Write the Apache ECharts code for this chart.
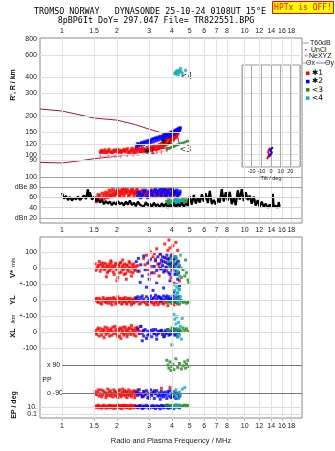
<!DOCTYPE html>
<html><head><meta charset="utf-8">
<script src="https://cdn.jsdelivr.net/npm/echarts@6/dist/echarts.min.js"></script>
<style>html,body{margin:0;padding:0;background:#fff}#c{width:335px;height:451px}</style>
</head><body><div id="c"></div>
<script>
// ---------- tick labels ----------
const freqTicks = [1,1.5,2,3,4,5,6,7,8,10,12,14,16,18];
const heightTicks = [80,90,100,120,150,200,300,400,600,800];
const heightLines = [90,100,120,150,200,300,400,600];
const ampTicks = [20,40,60,80,100];
const ampNames = {80:'dBe 80', 20:'dBn 20'};
const vTicks = [100,0];
const ylTicks = [100,0];
const xlTicks = [100,0,-100];
const ppTicks = [90,-90];
const ppNames = {90:'x 90', '-90':'o -90'};
const epTicks = [10,0.1];
const epNames = {10:'10.', 0.1:'0.1'};
const tiltTicks = [-20,-10,0,10,20];

// ---------- height panel (f MHz, h km) ----------
const heightRed = [[1.62,105],[1.64,108],[1.68,104],[1.7,107],[1.72,109],[1.76,103],[1.78,107],[1.81,110],[1.84,105],[1.87,104],[1.9,108],[1.93,105],[1.96,109],[2.0,106],[2.02,110],[2.06,105],[2.08,108],[2.12,104],[2.15,107],[2.18,110],[2.22,105],[2.25,109],[2.28,111],[2.32,106],[2.35,104],[2.39,109],[2.42,112],[2.46,107],[2.5,110],[2.53,105],[2.57,108],[2.6,112],[2.65,110],[2.68,106],[2.72,108],[2.76,113],[2.8,109],[2.85,111],[2.88,107],[2.93,114],[2.97,110],[3.0,108],[3.05,112],[3.08,115],[3.12,110],[3.16,117],[3.2,113],[3.25,116],[3.3,112],[3.34,118],[3.38,114],[3.42,120],[3.46,116],[3.5,122],[3.54,118],[3.58,125],[3.62,121],[3.66,128],[3.7,123],[3.74,131],[3.78,125],[3.82,133],[3.86,128],[3.9,136],[3.94,130],[3.98,138],[4.02,133],[4.06,140],[4.1,136],[4.14,143],[4.18,139],[4.22,146],[4.26,142],[4.3,150],[4.32,145],
  [1.63,102],[1.66,106],[1.73,104],[1.8,106],[1.88,102],[1.95,106],[2.03,103],[2.1,106],[2.2,107],[2.3,103],[2.4,106],[2.48,104],[2.55,111],[2.63,107],[2.7,111],[2.78,106],[2.86,108],[2.95,107],[3.03,110],[3.1,107],[3.18,110],[3.28,109],[3.36,111],[3.44,113],[3.52,114],[3.6,116],[3.68,118],[3.76,120],[3.84,122],[3.92,124],[4.0,128],[4.08,130],[4.16,134],[4.24,137],[4.28,146],[4.2,142],[4.12,138],[4.04,135]];
const heightBlue = [[2.55,115],[2.58,119],[2.62,117],[2.66,121],[2.7,118],[2.75,123],[2.8,120],[2.85,125],[2.9,122],[2.95,127],[3.0,121],[3.02,130],[3.08,124],[3.12,131],[3.18,126],[3.22,133],[3.28,128],[3.32,134],[3.38,130],[3.44,136],[3.5,132],[3.55,138],[3.6,134],[3.65,140],[3.7,136],[3.75,142],[3.8,138],[3.85,145],[3.9,140],[3.95,148],[4.0,142],[4.05,150],[4.1,145],[4.15,153],[4.2,148],[4.25,156],[4.3,151],[4.35,159],[4.4,154],[4.45,162],
  [2.6,122],[2.72,124],[2.82,126],[2.92,128],[3.05,128],[3.15,133],[3.25,135],[3.35,137],[3.45,139],[3.58,141],[3.68,143],[3.78,145],[3.88,147],[3.98,150],[4.08,152],[4.18,155],[4.28,158],[4.38,161],[4.42,157],[4.32,154]];
const heightGreen = [[3.75,110],[3.82,111],[3.9,112],[3.97,114],[4.05,115],[4.12,116],[4.2,118],[4.28,119],[4.35,120],[4.45,122],[4.55,123],[4.65,124],[4.75,126],[4.85,127],[4.95,128]];
const heightCyan = [[4.15,430],[4.2,445],[4.22,425],[4.25,440],[4.3,455],[4.33,420],[4.35,435],[4.4,450],[4.45,470],[4.5,445],[4.55,430],[4.75,455]];
const modelUpper = [[0.758,227],[1.0,219],[1.5,193],[2.0,186],[2.5,172],[3.0,158],[3.5,148],[4.0,141],[4.3,137],[4.4,120]];
const modelLower = [[0.758,87],[1.0,86],[1.3,90],[1.5,93],[2.0,97],[2.5,102],[3.0,107],[3.5,111],[4.0,115],[4.4,120]];
const neXYZ = [[1.62,96],[1.79,97],[1.95,98],[2.1,98],[2.28,99],[2.45,100],[2.6,101],[3.3,104],[3.5,105],[3.75,108]];
const traceTags = [[2.8,104,'✱1'],[3.45,126,'✱2'],[4.4,108,'<3'],[4.45,405,'<4']];
const tiltRed = [[-4,92],[-2,100],[-3,105],[-1,113]];
const tiltBlue = [[-2,96],[1,104],[-1,108],[2,114]];

// ---------- amplitude panel (f MHz, dB) ----------
const noiseTrace = [[1.0,69],[1.026,58],[1.052,63],[1.079,55],[1.106,61],[1.134,54],[1.163,60],[1.193,56],[1.223,62],[1.254,55],[1.286,59],[1.319,64],[1.353,57],[1.387,76],[1.404,60],[1.422,70],[1.459,56],[1.496,61],[1.534,52],[1.573,58],[1.613,50],[1.654,55],[1.697,47],[1.74,53],[1.784,48],[1.83,52],[1.876,45],[1.924,51],[1.973,46],[2.024,53],[2.075,47],[2.128,50],[2.183,44],[2.238,52],[2.295,46],[2.354,54],[2.414,45],[2.475,50],[2.538,43],[2.603,52],[2.669,46],[2.737,49],[2.807,42],[2.879,51],[2.952,44],[3.027,48],[3.105,41],[3.184,50],[3.265,43],[3.348,47],[3.433,41],[3.521,49],[3.61,42],[3.702,48],[3.797,40],[3.894,46],[3.993,42],[4.095,49],[4.199,41],[4.306,47],[4.416,43],[4.529,50],[4.644,42],[4.763,48],[4.884,44],[5.009,62],[5.137,46],[5.268,65],[5.402,48],[5.54,60],[5.681,50],[5.826,66],[5.974,52],[6.127,68],[6.283,49],[6.443,73],[6.607,47],[6.776,55],[6.948,46],[7.126,58],[7.307,50],[7.494,76],[7.685,52],[7.881,70],[8.082,54],[8.288,71],[8.499,47],[8.716,60],[8.938,45],[9.166,74],[9.4,56],[9.64,76],[9.886,53],[10.14,70],[10.4,55],[10.66,64],[10.93,48],[11.21,62],[11.5,44],[11.79,55],[12.09,42],[12.4,52],[12.72,41],[13.04,48],[13.37,40],[13.71,46],[14.06,41],[14.24,67],[14.42,42],[14.79,44],[15.17,40],[15.36,51],[15.55,42]];
const ampRed = [[1.52,60],[1.56,56],[1.6,63],[1.64,58],[1.68,61],[1.72,66],[1.76,62],[1.8,68],[1.84,64],[1.88,70],[1.92,66],[1.96,72],[2.0,67],[2.04,71],[2.08,65],[2.12,73],[2.16,68],[2.2,76],[2.25,69],[2.3,72],[2.35,66],[2.4,74],[2.45,70],[2.5,68],[2.55,73],[2.6,66],[2.7,71],[2.8,64],[2.9,68],[3.0,62],[3.1,66],[3.2,70],[3.3,65],[3.4,71],[3.5,67],[3.6,73],[3.7,68],[3.8,72],[3.9,66],[4.0,70],[4.1,64],[4.2,68],[4.3,62],
  [1.54,52],[1.58,65],[1.62,55],[1.66,68],[1.7,57],[1.74,70],[1.78,60],[1.82,74],[1.86,62],[1.9,76],[1.94,63],[1.98,68],[2.02,75],[2.06,62],[2.1,70],[2.14,77],[2.18,64],[2.22,71],[2.27,75],[2.32,63],[2.38,70],[2.43,76],[2.48,63],[2.52,70],[2.58,77],[2.65,70],[2.75,74],[2.85,68],[2.95,72],[3.05,66],[3.15,74],[3.25,62],[3.35,68],[3.45,64],[3.55,70],[3.65,64],[3.75,76],[3.85,64],[3.95,73],[4.05,68],[4.15,72],[4.25,66]];
const ampBlue = [[2.6,62],[2.65,68],[2.7,60],[2.75,66],[2.8,71],[2.9,64],[3.0,69],[3.05,74],[3.1,66],[3.2,71],[3.25,76],[3.3,68],[3.4,73],[3.5,69],[3.55,75],[3.6,71],[3.7,66],[3.75,73],[3.8,70],[3.9,77],[4.0,68],[4.05,72],[4.1,66],[4.2,70],[4.3,64],[4.4,67],
  [2.62,70],[2.72,64],[2.85,74],[2.95,60],[3.08,70],[3.15,63],[3.28,72],[3.35,65],[3.45,77],[3.52,63],[3.65,76],[3.72,62],[3.85,68],[3.95,64],[4.02,76],[4.12,70],[4.25,74],[4.35,68],[4.42,72]];
const ampGreen = [[3.75,52],[3.8,48],[3.85,55],[3.9,50],[4.0,53],[4.1,47],[4.2,56],[4.3,50],[4.4,54],[4.5,49],[4.6,57],[4.7,52],[4.8,55],[4.9,50]];
const ampCyan = [[4.0,50],[4.05,46],[4.1,54],[4.15,48],[4.2,52],[4.25,45],[4.3,55],[4.35,49],[4.4,53],[4.45,47],[4.5,51],[4.55,56]];

// ---------- V* (m/s) ----------
const vRed = [[1.52,25],[1.55,-5],[1.58,15],[1.62,-20],[1.65,30],[1.68,5],[1.71,-10],[1.74,25],[1.77,-30],[1.8,10],[1.83,-15],[1.86,35],[1.9,0],[1.93,-40],[1.96,20],[1.99,-5],[2.02,-60],[2.05,10],[2.08,30],[2.11,-25],[2.14,5],[2.17,-10],[2.2,25],[2.23,-35],[2.27,15],[2.3,-20],[2.33,40],[2.36,0],[2.4,-50],[2.43,20],[2.46,5],[2.5,-15],[2.54,10],[1.75,-55],[2.0,-80],[2.25,-70],[1.6,40],[1.85,45],[2.15,50],[2.45,-30],[2.8,60],[2.85,20],[2.9,80],[2.95,-10],[3.0,45],[3.05,100],[3.1,10],[3.15,70],[3.2,-30],[3.25,55],[3.3,120],[3.35,25],[3.4,-50],[3.45,85],[3.5,35],[3.0,-40],[3.2,90],[3.4,5],[3.65,150],[3.7,60],[3.75,-20],[3.8,110],[3.85,175],[3.9,30],[3.95,-60],[4.0,90],[4.05,140],[4.1,0],[4.15,70],[4.2,160],[4.25,-40],[4.3,110],[4.35,40],[4.4,-80],[3.9,125],[4.1,-95],[4.2,20],
  [1.53,-15],[1.57,5],[1.61,20],[1.64,-5],[1.67,15],[1.7,30],[1.73,0],[1.76,10],[1.79,-20],[1.82,25],[1.85,0],[1.88,15],[1.91,-25],[1.94,10],[1.97,30],[2.0,-10],[2.04,20],[2.07,-30],[2.1,35],[2.13,-5],[2.16,15],[2.19,-40],[2.22,0],[2.26,20],[2.29,-10],[2.32,5],[2.35,30],[2.38,-25],[2.42,0],[2.47,25],[2.52,-5],[2.6,15],[2.65,-20]];
const vBlue = [[2.55,40],[2.6,-20],[2.62,60],[2.68,-90],[2.7,20],[2.75,-50],[2.8,75],[2.85,-10],[2.9,-120],[2.95,30],[3.0,-70],[3.05,55],[3.1,-30],[3.15,-140],[3.2,10],[3.25,45],[3.3,-15],[3.35,70],[3.4,25],[3.45,-5],[3.5,50],[3.55,15],[3.6,-25],[3.65,65],[3.7,35],[3.75,0],[3.8,55],[3.85,-30],[3.9,20],[3.95,75],[4.0,-10],[4.05,45],[4.1,10],[4.15,-40],[4.2,60],[4.25,30],[4.3,-70],[4.35,5],[4.4,-110],[3.3,-95],[3.6,-125],[3.9,-80],[4.1,-150],[3.45,90],[3.75,80],
  [3.5,-5],[3.6,40],[3.7,5],[3.8,25],[3.85,60],[3.9,-40],[4.0,30],[4.1,55],[4.2,-20],[4.3,40],[3.55,70],[3.65,-15],[3.95,10],[4.15,20],[4.35,-30]];
const vGreen = [[3.85,40],[3.9,10],[3.95,60],[4.0,-20],[4.1,30],[4.2,70],[4.3,-40],[4.4,15],[4.5,-60],[4.6,-10],[4.7,-50],[4.8,-30],[4.9,-75],[4.95,-90],[4.75,50]];
const vCyan = [[4.1,40],[4.15,70],[4.2,10],[4.25,55],[4.3,-20],[4.35,30],[4.4,-50],[4.45,80],[4.5,0],[4.25,-100],[4.35,-130],[4.3,-155]];

// ---------- YL (km) ----------
const ylRed = [[1.52,-5],[1.55,10],[1.58,-15],[1.62,0],[1.65,-25],[1.68,15],[1.72,-10],[1.75,5],[1.78,-20],[1.82,10],[1.85,-5],[1.88,-30],[1.92,15],[1.95,0],[1.98,-15],[2.02,20],[2.05,-10],[2.08,5],[2.12,-25],[2.15,10],[2.18,-5],[2.22,15],[2.25,-20],[2.28,0],[2.32,-10],[2.36,10],[2.4,-30],[2.44,5],[2.48,-15],[2.52,15],[2.6,-5],[2.7,-20],[2.8,-10],[2.9,-25],[3.0,-5],[3.1,-15],[3.2,-30],[3.3,-10],[3.4,-20],[3.5,-5],[3.6,-25],[3.7,-15],[3.8,-35],[3.9,-10],[4.0,-20],[4.1,-30],[4.2,-15],[4.3,-25],
  [1.53,5],[1.57,-10],[1.6,10],[1.63,-20],[1.67,-5],[1.7,5],[1.74,-15],[1.77,10],[1.8,-5],[1.84,-20],[1.87,10],[1.9,-10],[1.94,5],[1.97,-25],[2.0,0],[2.04,-15],[2.07,10],[2.1,-5],[2.14,-20],[2.17,5],[2.2,-10],[2.24,0],[2.27,-25],[2.3,10],[2.34,-5],[2.38,-15],[2.42,0],[2.46,-20],[2.5,5],[2.55,-10],[2.65,-25],[2.75,-5],[2.85,-15],[2.95,-30],[3.05,-10],[3.15,-20],[3.25,-15],[3.35,-30],[3.45,-10],[3.55,-20]];
const ylBlue = [[2.55,10],[2.6,20],[2.65,0],[2.7,15],[2.75,25],[2.8,5],[2.9,20],[2.95,-5],[3.0,10],[3.05,25],[3.1,0],[3.2,15],[3.25,30],[3.3,5],[3.4,20],[3.45,-5],[3.5,10],[3.6,25],[3.65,0],[3.7,15],[3.8,5],[3.85,20],[3.9,-10],[4.0,10],[4.05,25],[4.1,0],[4.2,15],[4.25,-5],[4.3,10],[4.4,0],
  [3.0,-5],[3.15,10],[3.35,20],[3.55,0],[3.75,25],[3.95,5],[4.15,-10],[4.35,20],[3.45,15],[3.85,5]];
const ylGreen = [[3.8,-15],[3.9,-10],[4.0,-20],[4.1,-5],[4.2,-15],[4.3,-10],[4.4,-25],[4.5,-5],[4.6,-15],[4.7,-10],[4.8,-20],[4.9,-10],[4.95,-15]];
const ylCyan = [[4.1,95],[4.15,60],[4.2,30],[4.25,80],[4.3,45],[4.35,10],[4.4,65],[4.45,20],[4.5,-5],[4.3,-10],[4.2,5]];

// ---------- XL (km) ----------
const xlRed = [[1.52,10],[1.55,-15],[1.58,25],[1.62,0],[1.65,-20],[1.68,15],[1.72,30],[1.75,-5],[1.78,10],[1.82,-25],[1.85,20],[1.88,5],[1.92,-10],[1.95,35],[1.98,0],[2.02,-30],[2.05,15],[2.08,25],[2.12,-5],[2.15,10],[2.18,-20],[2.22,30],[2.25,5],[2.28,-15],[2.32,20],[2.36,-5],[2.4,40],[2.44,10],[2.48,-20],[2.52,25],[2.56,0],[2.6,15],[2.7,35],[2.8,5],[3.2,-10],[3.5,10],[3.9,-5],[4.2,15],[1.7,-35],[2.1,-40],
  [1.53,-5],[1.57,15],[1.6,-25],[1.63,20],[1.67,0],[1.7,10],[1.74,-15],[1.77,25],[1.8,-5],[1.84,10],[1.87,-20],[1.9,30],[1.94,-5],[1.97,15],[2.0,-15],[2.04,5],[2.07,-25],[2.1,20],[2.14,0],[2.17,30],[2.2,-10],[2.24,15],[2.27,-30],[2.3,5],[2.34,25],[2.38,-15],[2.42,20],[2.46,-5],[2.5,10],[2.54,-25],[2.58,30],[2.65,5],[2.75,-10]];
const xlBlue = [[2.6,20],[2.65,-10],[2.7,35],[2.75,0],[2.8,-25],[2.85,15],[2.9,-40],[2.95,5],[3.0,-15],[3.05,10],[3.1,-30],[3.15,0],[3.2,-10],[3.25,15],[3.3,-20],[3.35,5],[3.4,-5],[3.5,10],[3.55,-15],[3.6,0],[3.65,-25],[3.7,10],[3.75,-5],[3.8,15],[3.85,-20],[3.9,5],[4.0,-10],[4.05,20],[4.1,0],[4.2,-15],[4.25,10],[4.3,-30],[4.4,5],[2.75,-55],[3.3,-45],
  [2.95,-20],[3.15,15],[3.35,-10],[3.45,5],[3.6,-30],[3.7,-10],[3.9,-15],[4.0,5],[4.15,-20],[4.35,-5],[2.8,10]];
const xlGreen = [[3.8,15],[3.9,5],[4.0,25],[4.1,10],[4.2,20],[4.3,0],[4.4,15],[4.5,5],[4.6,25],[4.7,10],[4.8,20],[4.9,5],[4.0,-80]];
const xlCyan = [[4.1,110],[4.15,80],[4.2,50],[4.25,95],[4.3,20],[4.35,60],[4.4,-20],[4.45,35],[4.5,-45],[4.3,-30],[4.2,0],[4.55,85]];

// ---------- PP (deg) ----------
const ppRed = [[1.52,-80],[1.55,-100],[1.58,-70],[1.62,-95],[1.65,-115],[1.68,-75],[1.72,-90],[1.75,-105],[1.78,-65],[1.82,-85],[1.85,-110],[1.88,-95],[1.92,-70],[1.95,-100],[1.98,-85],[2.02,-120],[2.05,-75],[2.08,-95],[2.12,-105],[2.15,-65],[2.18,-90],[2.22,-110],[2.25,-80],[2.28,-100],[2.32,-70],[2.36,-95],[2.4,-115],[2.44,-85],[2.48,-75],[2.52,-105],[2.56,-90],[2.6,-70],[2.7,-100],[2.8,-80],[2.9,-95],[3.0,-110],[3.2,-75],[3.5,-60],[3.9,-55],
  [1.53,-95],[1.57,-85],[1.6,-110],[1.63,-70],[1.67,-100],[1.7,-85],[1.74,-120],[1.77,-90],[1.8,-105],[1.84,-75],[1.87,-95],[1.9,-115],[1.94,-80],[1.97,-110],[2.0,-90],[2.04,-100],[2.07,-70],[2.1,-115],[2.14,-85],[2.17,-100],[2.2,-75],[2.24,-95],[2.27,-120],[2.3,-85],[2.34,-105],[2.38,-80],[2.42,-100],[2.46,-90],[2.5,-120],[2.54,-80],[2.65,-95],[2.75,-110]];
const ppBlue = [[2.55,-85],[2.6,-105],[2.65,-70],[2.7,-95],[2.75,-115],[2.8,-80],[2.85,-100],[2.9,-75],[2.95,-120],[3.0,-90],[3.05,-70],[3.1,-105],[3.15,-85],[3.2,-125],[3.25,-95],[3.3,-75],[3.35,-110],[3.4,-90],[3.45,-130],[3.5,-80],[3.55,-100],[3.6,-115],[3.65,-85],[3.7,-105],[3.75,-125],[3.8,-90],[3.85,-110],[3.9,-75],[3.95,-120],[4.0,-95],[4.05,-115],[4.1,-85],[4.15,-105],[4.2,-125],[4.3,-95],[4.4,-110],
  [2.6,-90],[2.8,-110],[3.0,-125],[3.2,-80],[3.4,-105],[3.6,-95],[3.8,-80],[4.0,-110],[4.2,-90],[4.35,-120],[3.1,-95],[3.5,-110]];
const ppGreen = [[3.75,120],[3.8,90],[3.85,70],[3.9,110],[3.95,55],[4.0,80],[4.05,95],[4.1,60],[4.2,130],[4.3,75],[4.4,100],[4.5,65],[4.6,85],[4.7,110],[4.75,70],[4.8,95],[4.9,120],[4.95,80]];
const ppCyan = [[4.1,-80],[4.15,-100],[4.2,-70],[4.25,-115],[4.3,-90],[4.35,-125],[4.4,-85],[4.45,-105],[4.55,-65],[4.7,-55]];

// ---------- EP (deg, log) ----------
const epRed = [[1.52,20],[1.55,8],[1.58,30],[1.62,12],[1.65,5],[1.68,25],[1.72,10],[1.75,18],[1.78,6],[1.82,28],[1.85,9],[1.88,15],[1.92,4],[1.95,22],[1.98,11],[2.02,35],[2.05,7],[2.08,16],[2.12,26],[2.15,5],[2.18,13],[2.22,30],[2.25,8],[2.28,20],[2.32,10],[2.36,4],[2.4,24],[2.44,14],[2.48,6],[2.52,18],[2.6,9],[2.7,28],[2.8,12],[3.0,5],
  [1.53,10],[1.57,22],[1.6,6],[1.63,16],[1.67,9],[1.7,30],[1.74,5],[1.77,12],[1.8,20],[1.84,7],[1.87,25],[1.9,10],[1.94,18],[1.97,6],[2.0,14],[2.04,24],[2.07,9],[2.1,4],[2.14,18],[2.17,28],[2.2,10],[2.24,15],[2.27,6],[2.3,22],[2.34,12],[2.38,30],[2.42,8],[2.46,16],[2.5,26],[2.54,10],[2.65,15],[2.75,7]];
const epBlue = [[2.55,15],[2.6,6],[2.65,25],[2.7,10],[2.75,4],[2.8,20],[2.85,8],[2.9,30],[2.95,12],[3.0,5],[3.05,18],[3.1,9],[3.15,26],[3.2,14],[3.25,4],[3.3,22],[3.35,8],[3.4,16],[3.45,3],[3.5,28],[3.55,11],[3.6,6],[3.65,19],[3.7,9],[3.75,32],[3.8,13],[3.85,5],[3.9,21],[3.95,8],[4.0,15],[4.1,4],[4.2,24],[4.3,10],[4.4,6],
  [2.62,12],[2.78,6],[2.98,16],[3.18,7],[3.38,12],[3.58,20],[3.78,6],[3.98,10],[4.18,14],[4.35,18]];
const epGreen = [[3.7,20],[3.8,35],[3.9,15],[4.0,28],[4.1,18],[4.2,40],[4.3,22],[4.4,30],[4.5,16],[4.6,26],[4.7,34],[4.8,20],[4.9,28]];
const epCyan = [[4.05,15],[4.1,30],[4.15,10],[4.2,25],[4.25,8],[4.3,20],[4.35,35],[4.4,12]];

// ---------- styling ----------
const RED='#ff0000', BLUE='#0000ff', GREEN='#1e8c1e', CYAN='#14acb0', MAROON='#a8123c', PINK='#f0709a';
const FMIN=0.758, FMAX=20.6;
const FONT='Liberation Sans';
const lab = (extra)=>Object.assign({show:true, fontSize:7, color:'#222', fontFamily:FONT, margin:3}, extra||{});
const off = {axisLine:{show:false}, axisTick:{show:false}, axisLabel:{show:false}, splitLine:{show:false}};
function fx(g, extra){ return Object.assign({type:'log', logBase:10, gridIndex:g, min:FMIN, max:FMAX}, off, extra||{}); }
function vy(g, min, max, extra){ return Object.assign({type:'value', gridIndex:g, min, max}, off, extra||{}); }

const grids = [
  {left:40, top:38, width:262, height:185, show:true, borderColor:'#8a8a8a', borderWidth:1},
  {left:40, top:39, width:262, height:128},
  {left:40, top:167.5, width:262, height:55.6},
  {left:40, top:237, width:262, height:181, show:true, borderColor:'#8a8a8a', borderWidth:1},
  {left:40, top:237, width:262, height:47},
  {left:40, top:284, width:262, height:32},
  {left:40, top:316, width:262, height:32},
  {left:40, top:348, width:262, height:52},
  {left:40, top:400, width:262, height:17.5},
  {left:242, top:65, width:58, height:102, show:true, backgroundColor:'#fff', borderColor:'#999', borderWidth:1, z:5}
];

const xAxes = [
  fx(0,{position:'top', axisLabel:lab({customValues:freqTicks, margin:3})}),
  fx(0,{position:'bottom', axisLabel:lab({customValues:freqTicks, margin:4})}),
  fx(1), fx(2),
  fx(3,{position:'top', axisTick:{show:true, inside:true, length:3, customValues:freqTicks, lineStyle:{color:'#888'}}}),
  fx(3,{position:'bottom', axisLabel:lab({customValues:freqTicks, margin:5}), axisTick:{show:true, length:3, customValues:freqTicks, lineStyle:{color:'#bbb'}},
        name:'Radio and Plasma Frequency / MHz', nameLocation:'middle', nameGap:19, nameTextStyle:{fontSize:7.5, color:'#222', fontFamily:FONT}}),
  fx(4), fx(5), fx(6), fx(7), fx(8),
  {type:'value', gridIndex:9, min:-30, max:30, interval:10, z:6,
   axisLine:{show:false}, axisTick:{show:false},
   axisLabel:lab({fontSize:5.5, margin:1, formatter:v=>tiltTicks.includes(v)?String(v):''}),
   splitLine:{show:true, lineStyle:{color:'#aaa', width:1}},
   name:'Tilt / deg', nameLocation:'middle', nameGap:8, nameTextStyle:{fontSize:5.5, color:'#222', fontFamily:FONT}}
];

const yAxes = [
  vy(0,0,1),
  {type:'log', logBase:10, gridIndex:1, min:80, max:800, axisLine:{show:false}, axisTick:{show:false}, splitLine:{show:false},
   axisLabel:lab({customValues:heightTicks})},
  vy(2,10,118.5,{axisLabel:lab({customValues:ampTicks, formatter:v=>ampNames[v]||String(v)})}),
  vy(3,0,1),
  vy(4,-100,193.75,{axisLabel:lab({customValues:vTicks})}),
  vy(5,-100,100,{axisLabel:lab({customValues:ylTicks, formatter:v=>v===100?'+-100':String(v)})}),
  vy(6,-100,100,{axisLabel:lab({customValues:xlTicks, formatter:v=>v===100?'+-100':String(v)})}),
  vy(7,-135,199.3,{axisLabel:lab({customValues:ppTicks, inside:true, margin:7, formatter:v=>ppNames[v]})}),
  {type:'log', logBase:10, gridIndex:8, min:0.01, max:1000, axisLine:{show:false}, axisTick:{show:false}, splitLine:{show:false},
   axisLabel:lab({customValues:epTicks, formatter:v=>epNames[v]})},
  {type:'log', logBase:10, gridIndex:9, min:80, max:500, axisLine:{show:false}, axisTick:{show:false}, splitLine:{show:false}, axisLabel:{show:false}}
];

function lines(xi, yi, key, vals, color){
  return {type:'line', xAxisIndex:xi, yAxisIndex:yi, data:[], silent:true, z:1,
    markLine:{silent:true, symbol:['none','none'], animation:false, label:{show:false}, emphasis:{disabled:true},
      lineStyle:{color, width:1, type:'solid'}, data: vals.map(v=>({[key]:v}))}};
}
function segLines(xi, yi, vals, color){
  return {type:'line', xAxisIndex:xi, yAxisIndex:yi, data:[], silent:true, z:1,
    markLine:{silent:true, symbol:['none','none'], animation:false, label:{show:false}, emphasis:{disabled:true},
      lineStyle:{color, width:1, type:'solid'}, data: vals.map(v=>[{coord:[1, v]},{coord:[FMAX, v]}])}};
}
function sc(xi, yi, data, color, size){
  return {type:'scatter', xAxisIndex:xi, yAxisIndex:yi, data, symbol:'rect', symbolSize:size||3, clip:false,
    itemStyle:{color}, silent:true, animation:false, z:3};
}

const series = [
  lines(1,0,'xAxis',freqTicks,'#e2e2e2'),
  lines(5,3,'xAxis',freqTicks,'#e2e2e2'),
  lines(2,1,'yAxis',heightLines,'#e0e0e0'),
  lines(3,2,'yAxis',[100,80],'#a0a0a0'),
  lines(3,2,'yAxis',[60,40],'#d4d4d4'),
  lines(3,2,'yAxis',[20],'#a8a8d8'),
  lines(6,4,'yAxis',[100,0,-100],'#dcdcdc'),
  lines(7,5,'yAxis',[0,-100],'#dcdcdc'),
  lines(8,6,'yAxis',[0,-100],'#dcdcdc'),
  segLines(9,7,ppTicks,'#777'),
  lines(10,8,'yAxis',epTicks,'#dcdcdc'),
  // height panel
  {type:'line', xAxisIndex:2, yAxisIndex:1, data:modelUpper, showSymbol:false, lineStyle:{color:MAROON, width:1}, silent:true, z:2},
  {type:'line', xAxisIndex:2, yAxisIndex:1, data:modelLower, showSymbol:false, lineStyle:{color:MAROON, width:1}, silent:true, z:2},
  {type:'line', xAxisIndex:2, yAxisIndex:1, data:neXYZ, symbol:'rect', symbolSize:[1.5,4], itemStyle:{color:PINK}, lineStyle:{color:'#f6b0c6', width:1}, silent:true, z:2},
  sc(2,1,heightRed,RED), sc(2,1,heightBlue,BLUE), sc(2,1,heightGreen,GREEN,2.5), sc(2,1,heightCyan,CYAN),
  {type:'scatter', xAxisIndex:2, yAxisIndex:1, data:traceTags, symbolSize:0, silent:true, z:4,
   label:{show:true, position:'right', distance:0, formatter:p=>p.data[2], fontSize:8, color:'#000', fontFamily:'DejaVu Sans'}},
  // inset tilt
  {type:'line', xAxisIndex:11, yAxisIndex:9, data:tiltRed, showSymbol:false, lineStyle:{color:RED, width:2}, silent:true, z:7},
  {type:'line', xAxisIndex:11, yAxisIndex:9, data:tiltBlue, showSymbol:false, lineStyle:{color:BLUE, width:2}, silent:true, z:7},
  // amplitude
  sc(3,2,ampRed,RED,3.5), sc(3,2,ampBlue,BLUE,3.5), sc(3,2,ampGreen,GREEN,3.5), sc(3,2,ampCyan,CYAN,3.5),
  {type:'line', xAxisIndex:3, yAxisIndex:2, data:noiseTrace, showSymbol:false, lineStyle:{color:'#000', width:2.2}, silent:true, z:4},
  // V*
  sc(6,4,vRed,RED), sc(6,4,vBlue,BLUE), sc(6,4,vGreen,GREEN), sc(6,4,vCyan,CYAN),
  // YL
  sc(7,5,ylRed,RED), sc(7,5,ylBlue,BLUE), sc(7,5,ylGreen,GREEN), sc(7,5,ylCyan,CYAN),
  // XL
  sc(8,6,xlRed,RED), sc(8,6,xlBlue,BLUE), sc(8,6,xlGreen,GREEN), sc(8,6,xlCyan,CYAN),
  // PP
  sc(9,7,ppRed,RED), sc(9,7,ppBlue,BLUE), sc(9,7,ppGreen,GREEN), sc(9,7,ppCyan,CYAN),
  // EP
  sc(10,8,epRed,RED), sc(10,8,epBlue,BLUE), sc(10,8,epGreen,GREEN), sc(10,8,epCyan,CYAN)
];

// ---------- text & legend ----------
const titleLines = ['TROMSO NORWAY   DYNASONDE 25-10-24 0108UT 15°E', '8pBP6It DoY= 297.047 File= TR822551.BPG'];
const legendKeys = [{t:'✱1', c:RED},{t:'✱2', c:BLUE},{t:'<3', c:GREEN},{t:'<4', c:CYAN}];
const T = (x,y,text,opt)=>Object.assign({type:'text', x, y, silent:true, z:100,
  style:Object.assign({text, fill:'#111', font:'7px '+FONT, align:'center', verticalAlign:'middle'}, (opt&&opt.style)||{})}, opt&&opt.rotation!==undefined?{rotation:opt.rotation}:{});
const rot = Math.PI/2;
const graphic = [
  T(150,12,titleLines[0],{style:{font:'8.4px "DejaVu Sans Mono"', fill:'#000'}}),
  T(156,21,titleLines[1],{style:{font:'8.4px "DejaVu Sans Mono"', fill:'#000'}}),
  {type:'rect', shape:{x:272.5,y:1.5,width:61,height:12}, style:{fill:'#ffff00', stroke:'#ff0000', lineWidth:1}, silent:true, z:100},
  T(303,8,'HPTx is OFF!',{style:{font:'8px "DejaVu Sans Mono"', fill:'#ff0000'}}),
  T(13,85,"R', R / km",{rotation:rot, style:{font:'bold 7px '+FONT}}),
  {type:'text', x:13, y:268, rotation:rot, silent:true, z:100, style:{text:'{a|V*} {b|m/s}', align:'center', verticalAlign:'middle',
     rich:{a:{font:'bold 7.5px '+FONT, fill:'#111'}, b:{font:'5.5px '+FONT, fill:'#111'}}}},
  T(13,300,'YL',{rotation:rot, style:{font:'bold 7.5px '+FONT}}),
  T(13,319,'/km',{rotation:rot, style:{font:'5.5px '+FONT}}),
  T(13,333,'XL',{rotation:rot, style:{font:'bold 7.5px '+FONT}}),
  T(14,405,'EP / deg',{rotation:rot, style:{font:'bold 7px '+FONT}}),
  T(47,380,'PP',{style:{font:'7px '+FONT}}),
  // right legend
  {type:'line', shape:{x1:303,y1:43,x2:309,y2:43}, style:{stroke:'#999', lineWidth:1}, silent:true, z:100},
  T(310,43,'T60dB',{style:{align:'left'}}),
  T(306,50,'·',{style:{font:'bold 8px '+FONT}}),
  T(311,50,'UnCl',{style:{align:'left'}}),
  T(306,56,'+',{style:{font:'8px '+FONT, fill:PINK}}),
  T(309,56,'NeXYZ',{style:{align:'left'}}),
  {type:'line', shape:{x1:303,y1:63,x2:306,y2:63}, style:{stroke:PINK, lineWidth:1}, silent:true, z:100},
  T(306,63,'Θx',{style:{align:'left'}}),
  {type:'line', shape:{x1:316,y1:63,x2:325,y2:63}, style:{stroke:'#7777ee', lineWidth:1}, silent:true, z:100},
  T(325,63,'Θy',{style:{align:'left'}}),
];
legendKeys.forEach((k,i)=>{
  const y = 73 + i*8.3;
  graphic.push({type:'rect', shape:{x:306,y:y-1.5,width:3.5,height:3.5}, style:{fill:k.c}, silent:true, z:100});
  graphic.push(T(312,y,k.t,{style:{align:'left', font:'7.5px "DejaVu Sans"', fill:'#000'}}));
});

const chart = echarts.init(document.getElementById('c'), null, {renderer:'canvas'});
chart.setOption({animation:false, grid:grids, xAxis:xAxes, yAxis:yAxes, series, graphic});
</script></body></html>
